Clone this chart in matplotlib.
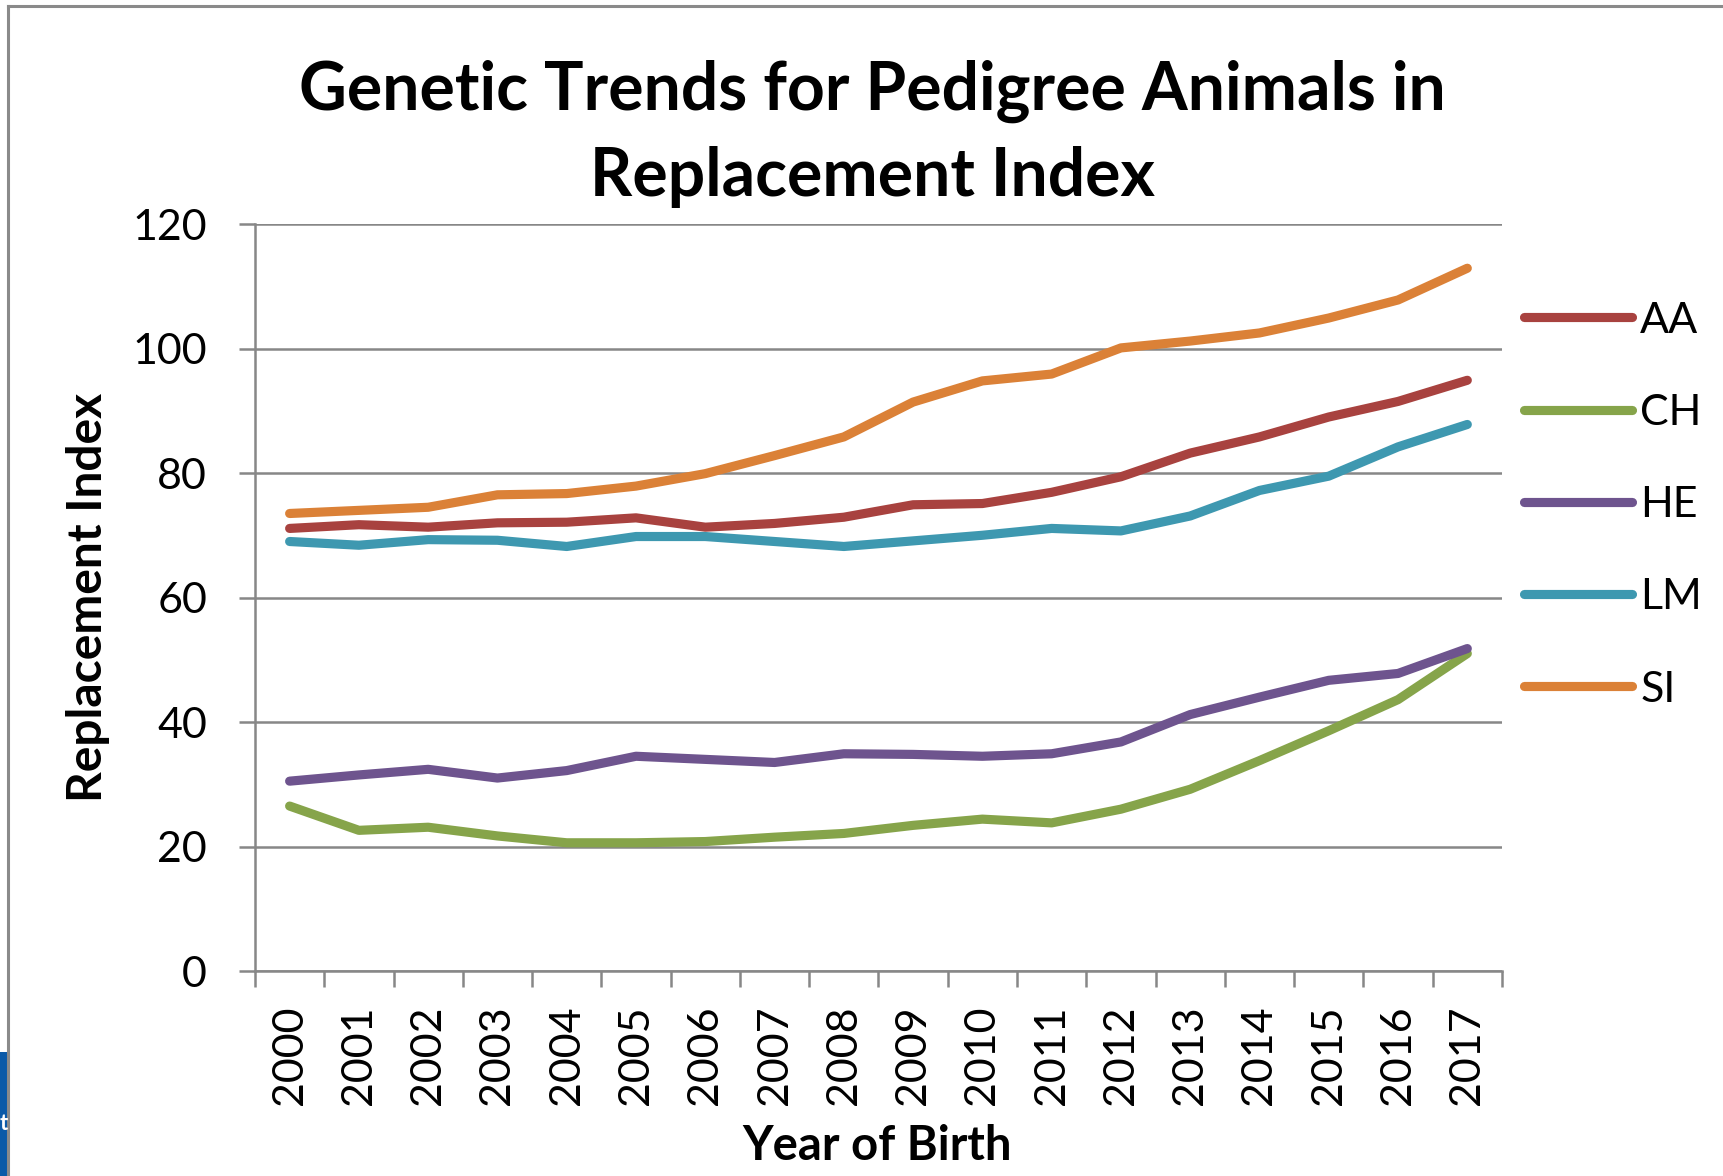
""" Genetic trends line chart with Matplotlib """

# Imports
import matplotlib.pyplot as plt
from matplotlib.patches import Rectangle
from matplotlib.lines import Line2D

plt.rcParams["font.family"] = ["Lato", "DejaVu Sans"]

# Data
years = ["2000", "2001", "2002", "2003", "2004", "2005", "2006", "2007", "2008",
         "2009", "2010", "2011", "2012", "2013", "2014", "2015", "2016", "2017"]
aa = [71.1, 71.7, 71.3, 72.0, 72.1, 72.8, 71.3, 71.9, 72.9, 74.9,
      75.1, 76.9, 79.4, 83.2, 85.8, 89.0, 91.5, 94.9]
ch = [26.5, 22.6, 23.1, 21.7, 20.6, 20.6, 20.8, 21.5, 22.1, 23.4,
      24.4, 23.8, 26.0, 29.2, 33.8, 38.6, 43.6, 51.0]
he = [30.5, 31.5, 32.4, 31.0, 32.2, 34.5, 34.0, 33.5, 34.9, 34.8,
      34.5, 34.9, 36.8, 41.2, 44.0, 46.7, 47.8, 51.8]
lm = [69.0, 68.4, 69.3, 69.2, 68.2, 69.8, 69.8, 69.0, 68.2, 69.1,
      70.0, 71.1, 70.7, 73.1, 77.2, 79.5, 84.2, 87.8]
si = [73.5, 74.0, 74.5, 76.5, 76.7, 77.9, 79.9, 82.8, 85.8, 91.4,
      94.8, 95.9, 100.1, 101.2, 102.5, 104.9, 107.8, 112.9]

series = [("AA", aa, "#A8423F"), ("CH", ch, "#86A44A"), ("HE", he, "#6E548E"),
          ("LM", lm, "#3E98B0"), ("SI", si, "#DB8137")]

GRAY = "#878787"

fig = plt.figure(figsize=(17.24, 11.76), dpi=100)
ax = fig.add_axes([0.1479, 0.1743, 0.7233, 0.6352])

x = list(range(len(years)))
for name, vals, col in series:
    ax.plot(x, vals, color=col, lw=6.6, label=name, solid_capstyle="round",
            solid_joinstyle="round", zorder=3)

ax.set_xlim(-0.5, len(years) - 0.5)
ax.set_ylim(0, 120)
ax.set_yticks(range(0, 121, 20))
ax.set_xticks(x)
ax.set_xticklabels(years, rotation=90)
ax.set_xticks([i - 0.5 for i in range(len(years) + 1)], minor=True)

ax.grid(True, axis="y", color=GRAY, lw=1.8, zorder=0)
for s in ["top", "right"]:
    ax.spines[s].set_visible(False)
for s in ["left", "bottom"]:
    ax.spines[s].set_color(GRAY)
    ax.spines[s].set_linewidth(1.8)

ax.tick_params(axis="y", length=11.5, width=1.8, color=GRAY, pad=23,
               labelsize=31)
ax.tick_params(axis="x", which="major", length=0, pad=24.5, labelsize=31)
ax.tick_params(axis="x", which="minor", length=11.5, width=1.8, color=GRAY)

# Titles
fig.text(0.506, 0.886, "Genetic Trends for Pedigree Animals in\nReplacement Index",
         ha="center", va="center", fontsize=47.5, fontweight="bold",
         linespacing=1.45)
fig.text(0.051, 0.492, "Replacement Index", rotation=90, ha="center",
         va="center", fontsize=34.5, fontweight="bold")
fig.text(0.5087, 0.0255, "Year of Birth", ha="center", va="center",
         fontsize=34, fontweight="bold")

# Legend
ax.legend(loc="center left", bbox_to_anchor=(1524 / 1724, 1 - 505 / 1176),
          bbox_transform=fig.transFigure, frameon=False, fontsize=31,
          handlelength=2.5, handletextpad=0.2, labelspacing=1.26,
          borderpad=0, borderaxespad=0)

# Outer frame and cropped edge
fig.add_artist(Line2D([8 / 1724, 8 / 1724], [0, 1 - 6 / 1176],
                      transform=fig.transFigure, color="#8A8A8A", lw=2.2))
fig.add_artist(Line2D([8 / 1724, 1], [1 - 6 / 1176, 1 - 6 / 1176],
                      transform=fig.transFigure, color="#8A8A8A", lw=2.2))
fig.add_artist(Rectangle((0, 0), 7 / 1724, 124 / 1176, transform=fig.transFigure,
                         color="#0B5AA8", lw=0))
fig.text(0.0, 0.045, "t", color="white", fontsize=16, fontweight="bold",
         ha="left", va="center")

plt.savefig("out.png", dpi=100)
